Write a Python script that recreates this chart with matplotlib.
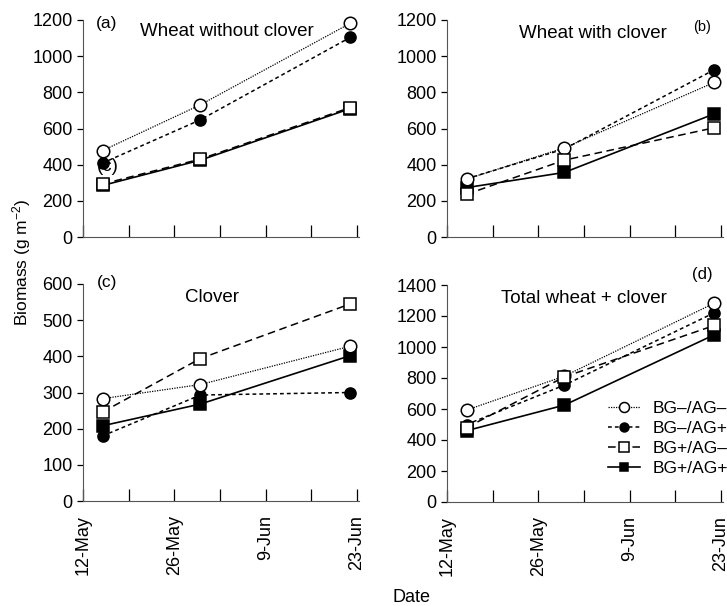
import matplotlib
matplotlib.use("Agg")
import matplotlib.pyplot as plt
import matplotlib.dates as mdates
import pandas as pd

plt.rcParams['font.family'] = ['Liberation Sans', 'DejaVu Sans']
plt.rcParams['mathtext.default'] = 'regular'

dates = pd.to_datetime(["2001-05-15", "2001-05-30", "2001-06-22"])
treatments = ["BG\u2013/AG\u2013", "BG\u2013/AG+", "BG+/AG\u2013", "BG+/AG+"]

wheat_no_clover = {
    "BG\u2013/AG\u2013": [478, 731, 1182],
    "BG\u2013/AG+": [409, 648, 1104],
    "BG+/AG\u2013": [293, 431, 716],
    "BG+/AG+": [285, 425, 710],
}
wheat_clover = {
    "BG\u2013/AG\u2013": [320, 493, 855],
    "BG\u2013/AG+": [322, 487, 925],
    "BG+/AG\u2013": [236, 425, 604],
    "BG+/AG+": [273, 357, 681],
}
clover = {
    "BG\u2013/AG\u2013": [283, 322, 428],
    "BG\u2013/AG+": [180, 293, 300],
    "BG+/AG\u2013": [246, 394, 545],
    "BG+/AG+": [208, 268, 402],
}
total = {
    "BG\u2013/AG\u2013": [593, 812, 1283],
    "BG\u2013/AG+": [500, 754, 1221],
    "BG+/AG\u2013": [480, 807, 1139],
    "BG+/AG+": [460, 625, 1079],
}

styles = {
    "BG\u2013/AG\u2013": dict(marker="o", mfc="white", ls=(0, (1, 1)), lw=0.9, ms=9),
    "BG\u2013/AG+": dict(marker="o", mfc="black", ls=(0, (2.5, 2)), lw=1.1, ms=8),
    "BG+/AG\u2013": dict(marker="s", mfc="white", ls=(0, (5, 3)), lw=1.1, ms=8.5),
    "BG+/AG+": dict(marker="s", mfc="black", ls="-", lw=1.2, ms=8),
}
order = ["BG+/AG+", "BG\u2013/AG+", "BG\u2013/AG\u2013", "BG+/AG\u2013"]

fig = plt.figure(figsize=(7.27, 6.06), dpi=100)
W, H = 727, 606
aw, ah = 276 / W, 217 / H
boxes = [(83 / W, 1 - 237 / H), (447 / W, 1 - 237 / H),
         (83 / W, 1 - 501 / H), (447 / W, 1 - 502 / H)]
panels = [
    (wheat_no_clover, 1200, 200, "(a)", (0.087, 0.986), 12.5, "Wheat without clover", (0.522, 0.945)),
    (wheat_clover, 1200, 200, "(b)", (0.924, 0.968), 10.5, "Wheat with clover", (0.529, 0.94)),
    (clover, 600, 100, "(c)", (0.087, 1.009), 12.5, "Clover", (0.467, 0.94)),
    (total, 1400, 200, "(d)", (0.924, 1.05), 12, "Total wheat + clover", (0.496, 0.94)),
]

x0 = pd.Timestamp("2001-05-12")
x1 = pd.Timestamp("2001-06-23") + pd.Timedelta(hours=8)

axes = []
for i, (data, ymax, ystep, tag, tagpos, tagsize, title, titlepos) in enumerate(panels):
    ax = fig.add_axes([boxes[i][0], boxes[i][1], aw, ah])
    axes.append(ax)
    for name in order:
        st = styles[name]
        ax.plot(dates, data[name], color="black", marker=st["marker"], markersize=st["ms"],
                markerfacecolor=st["mfc"], markeredgecolor="black", markeredgewidth=1.1,
                linestyle=st["ls"], linewidth=st["lw"], label=name, clip_on=False)
    ax.set_xlim(x0, x1)
    ax.set_ylim(0, ymax)
    ax.set_yticks(range(0, ymax + 1, ystep))
    ax.spines["top"].set_visible(False)
    ax.spines["right"].set_visible(False)
    ax.set_xticks(pd.date_range("2001-05-12", periods=4, freq="14D"))
    ax.set_xticks(pd.date_range("2001-05-19", periods=3, freq="14D"), minor=True)
    ax.xaxis.set_major_formatter(mdates.DateFormatter("%-d-%b"))
    ax.tick_params(axis="x", which="both", direction="in", length=9, width=0.9)
    ax.tick_params(axis="x", which="major", pad=10, labelsize=13, labelrotation=90)
    ax.tick_params(axis="y", direction="out", length=4, width=0.9, pad=3.5, labelsize=13)
    if i < 2:
        ax.tick_params(axis="x", labelbottom=False)
    for s in ["left", "bottom"]:
        ax.spines[s].set_color("#555555")
    ax.text(tagpos[0], tagpos[1], tag, transform=ax.transAxes, ha="center", va="center",
            fontsize=tagsize)
    ax.text(titlepos[0], titlepos[1], title, transform=ax.transAxes, ha="center", va="center",
            fontsize=13.5)

# stray label that sits inside panel (a) in the original
axes[0].text(0.09, 0.323, "(c)", transform=axes[0].transAxes, ha="center", va="center", fontsize=13.5)

handles, labels = axes[3].get_legend_handles_labels()
hmap = dict(zip(labels, handles))
axes[3].legend([hmap[t] for t in treatments], treatments, loc="upper left",
               bbox_to_anchor=(0.583, 0.468), frameon=False, fontsize=12.5,
               handlelength=1.85, handletextpad=0.7, labelspacing=0.28, borderpad=0,
               borderaxespad=0, markerscale=0.8)

fig.text(22 / W, 1 - 262 / H, "Biomass (g m$^{-2}$)", rotation=90, ha="center", va="center",
         fontsize=12.5)
fig.text(411 / W, 1 - 597 / H, "Date", ha="center", va="center", fontsize=13)

fig.savefig("out.png", dpi=100)
